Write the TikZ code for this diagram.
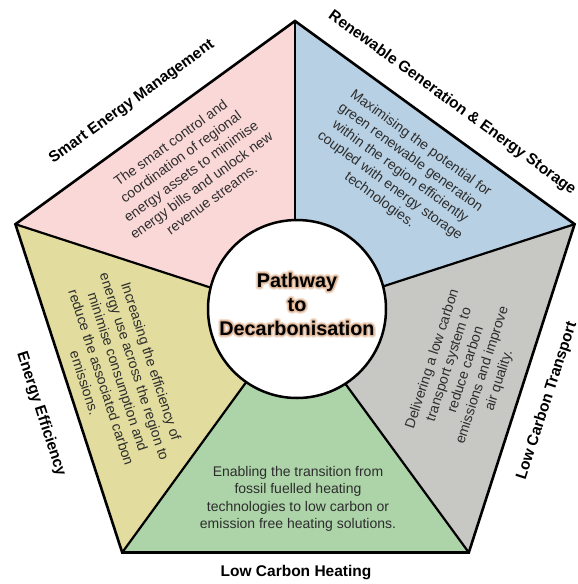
\documentclass[tikz,border=0pt]{standalone}
\usepackage{fontspec}
\setmainfont{Liberation Sans}

\definecolor{smartfill}{RGB}{250,216,215}
\definecolor{renewfill}{RGB}{184,208,227}
\definecolor{transfill}{RGB}{199,199,196}
\definecolor{heatfill}{RGB}{172,212,168}
\definecolor{effill}{RGB}{226,220,158}
\definecolor{bodygray}{RGB}{45,45,45}

% outlined (stroked) glyphs, used for the soft halo behind the title
\newcommand{\strokedtext}[3]{%
  \special{pdf:literal direct 1 Tr #1 w 1 j 1 J #2 RG}#3\special{pdf:literal direct 0 Tr}}

\tikzset{
  edge line/.style={line width=2.6pt, line join=miter},
  divider/.style={line width=2.2pt},
  section title/.style={font=\fontsize{15.5}{18}\selectfont\bfseries, inner sep=0pt},
  section body/.style={font=\fontsize{14}{17.5}\selectfont, text=bodygray, align=center, inner sep=0pt},
  hub/.style={circle, draw, fill=white, line width=2.5pt, minimum size=178pt, inner sep=0pt},
  hub text/.style={font=\fontsize{19.8}{24}\selectfont\bfseries, align=center, inner sep=0pt},
}

\begin{document}
\begin{tikzpicture}[x=1pt,y=-1pt]
\useasboundingbox (0,0) rectangle (578,584);

% corners of the pentagon and its centre
\coordinate (O) at (295,315);
\coordinate (T) at (295,21);
\coordinate (R) at (574.6,224.2);
\coordinate (BR) at (468.8,552.5);
\coordinate (BL) at (122.2,552.5);
\coordinate (L) at (15.4,224.2);

% five coloured sectors
\fill[smartfill] (O) -- (L) -- (T) -- cycle;
\fill[renewfill] (O) -- (T) -- (R) -- cycle;
\fill[transfill] (O) -- (R) -- (BR) -- cycle;
\fill[heatfill] (O) -- (BR) -- (BL) -- cycle;
\fill[effill] (O) -- (BL) -- (L) -- cycle;
\foreach \v in {T,R,BR,BL,L} \draw[divider] (O) -- (\v);
\draw[edge line] (T) -- (R) -- (BR) -- (BL) -- (L) -- cycle;

% central disc with a glowing title
\node[hub] (hub) at (297,309) {};
\node[hub text] (glowout) at (297,304)
  {\strokedtext{5}{0.95 0.87 0.81}{Pathway}\\\strokedtext{5}{0.95 0.87 0.81}{to}\\\strokedtext{5}{0.95 0.87 0.81}{Decarbonisation}};
\node[hub text] (glowin) at (297,304)
  {\strokedtext{2.6}{0.88 0.72 0.60}{Pathway}\\\strokedtext{2.6}{0.88 0.72 0.60}{to}\\\strokedtext{2.6}{0.88 0.72 0.60}{Decarbonisation}};
\node[hub text] (hubtitle) at (297,304) {Pathway\\to\\Decarbonisation};

% descriptions inside the sectors
\node[section body, rotate=36] (smartbody) at (191,171)
  {The smart control and\\coordination of regional\\energy assets to minimise\\energy bills and unlock new\\revenue streams.};
\node[section body, rotate=-36] (renewbody) at (400,172)
  {Maximising the potential for\\green renewable generation\\within the region efficiently\\coupled with energy storage\\technologies.};
\node[section body, rotate=72] (transbody) at (466,370)
  {Delivering a low carbon\\transport system to\\reduce carbon\\emissions and improve\\air quality.};
\node[section body] (heatbody) at (298,499)
  {Enabling the transition from\\fossil fuelled heating\\technologies to low carbon or\\emission free heating solutions.};
\node[section body, rotate=-72] (effbody) at (118,372)
  {Increasing the efficiency of\\energy use across the region to\\minimise consumption and\\reduce the associated carbon\\emissions.};

% titles along the outer edges
\node[section title, rotate=36] (smarttitle) at (132,102) {Smart Energy Management};
\node[section title, rotate=-36] (renewtitle) at (452,103) {Renewable Generation \& Energy Storage};
\node[section title, rotate=72] (transtitle) at (547,401) {Low Carbon Transport};
\node[section title] (heattitle) at (296,573) {Low Carbon Heating};
\node[section title, rotate=-72] (efftitle) at (41,414) {Energy Efficiency};
\end{tikzpicture}
\end{document}
